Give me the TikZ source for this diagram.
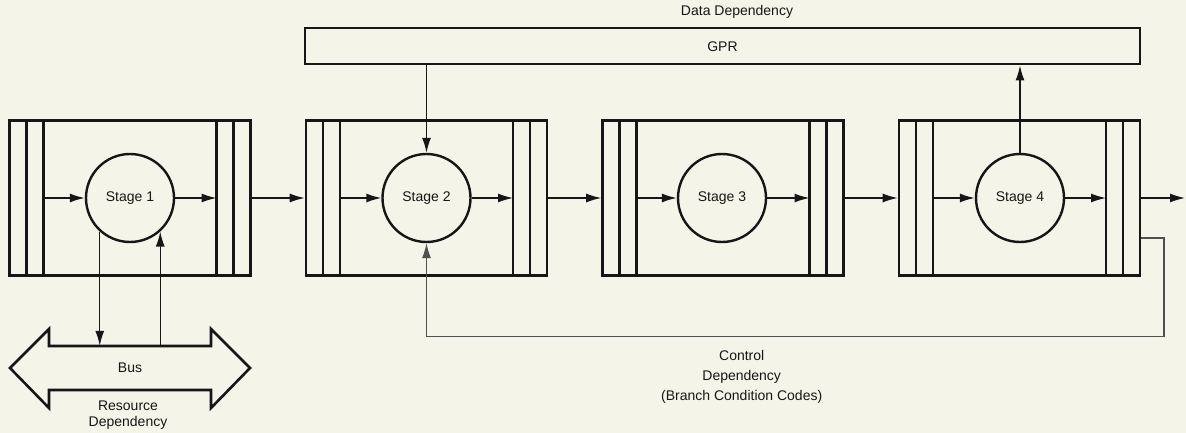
\documentclass[tikz,border=0pt]{standalone}
\usepackage{fontspec}
\setmainfont{Liberation Sans}
\usetikzlibrary{arrows.meta,calc}
\definecolor{bg}{RGB}{244,244,232}
\definecolor{ink}{RGB}{22,22,22}
\begin{document}
\begin{tikzpicture}[x=1pt,y=-1pt,
  stagebox/.style={draw=ink,line width=2.6pt,minimum width=241pt,minimum height=155pt,inner sep=0pt},
  stagecirc/.style={circle,draw=ink,line width=2.4pt,minimum size=88pt,inner sep=0pt,font=\fontsize{14}{16}\selectfont,text=ink},
  latch/.style={draw=ink,line width=2.2pt},
  flow/.style={draw=ink,line width=1.4pt,-{Latex[length=15pt,width=9pt]}},
  ctrl/.style={draw=ink!75,line width=1.2pt,-{Latex[length=15pt,width=9pt]}},
  lbl/.style={font=\fontsize{14}{16}\selectfont,text=ink,align=center,inner sep=0pt}
]
\useasboundingbox (0,0) rectangle (1186,433);
\fill[bg] (0,0) rectangle (1186,433);

% stage boxes
\node[stagebox] (b1) at (130,198) {};
\node[stagebox] (b2) at (426.5,198) {};
\node[stagebox] (b3) at (723,198) {};
\node[stagebox] (b4) at (1019.5,198) {};

% latch lines
\foreach \b in {b1,b2,b3,b4} {
  \draw[latch] ([xshift=18.3pt]\b.north west) -- ([xshift=18.3pt]\b.south west);
  \draw[latch] ([xshift=35.3pt]\b.north west) -- ([xshift=35.3pt]\b.south west);
  \draw[latch] ([xshift=-18.3pt]\b.north east) -- ([xshift=-18.3pt]\b.south east);
  \draw[latch] ([xshift=-35.3pt]\b.north east) -- ([xshift=-35.3pt]\b.south east);
}

% stage circles
\node[stagecirc] (s1) at (130,198) {Stage 1};
\node[stagecirc] (s2) at (426.5,198) {Stage 2};
\node[stagecirc] (s3) at (722,198) {Stage 3};
\node[stagecirc] (s4) at (1020,198) {Stage 4};

% flow inside boxes
\foreach \i in {1,2,3,4} {
  \draw[flow] ([xshift=35.3pt]b\i.west) -- (s\i.west);
  \draw[flow] (s\i.east) -- ([xshift=-35.3pt]b\i.east);
}
% flow between boxes
\draw[flow] (b1.east) -- (b2.west);
\draw[flow] (b2.east) -- (b3.west);
\draw[flow] (b3.east) -- (b4.west);
\coordinate (out) at (1185,198);
\draw[flow] (b4.east) -- (out);

% GPR
\node[draw=ink,line width=2.4pt,minimum width=834.6pt,minimum height=36pt,inner sep=0pt,
      font=\fontsize{14}{16}\selectfont,text=ink] (gpr) at (722.5,46.3) {GPR};
\node[lbl] (dd) at (737,12) {Data Dependency};
\draw[flow] (s2.north |- gpr.south) -- (s2.north);
\draw[flow] (s4.north) -- (s4.north |- gpr.south);

% control dependency
\coordinate (c1) at (1164,238);
\coordinate (c2) at (1164,336.5);
\draw[ctrl] (b4.east |- c1) -- (c1) -- (c2) -| (s2.south);
\node[lbl,font=\fontsize{14}{20}\selectfont] (cd) at (741.7,376.7) {Control\\Dependency\\(Branch Condition Codes)};

% bus
\draw[draw=ink,line width=2.6pt,line join=miter]
  (10,368) -- (49,329) -- (49,346) -- (211,346) -- (211,329) -- (250,368)
  -- (211,408) -- (211,390) -- (49,390) -- (49,408) -- cycle;
\node[lbl,minimum width=162pt,minimum height=44pt] (bus) at (130,368) {Bus};
\node[lbl] (rd) at (128,414.7) {Resource\\Dependency};
\draw[flow] (s1.228) -- (s1.228 |- bus.north);
\draw[flow] (s1.312 |- bus.north) -- (s1.312);
\end{tikzpicture}
\end{document}
